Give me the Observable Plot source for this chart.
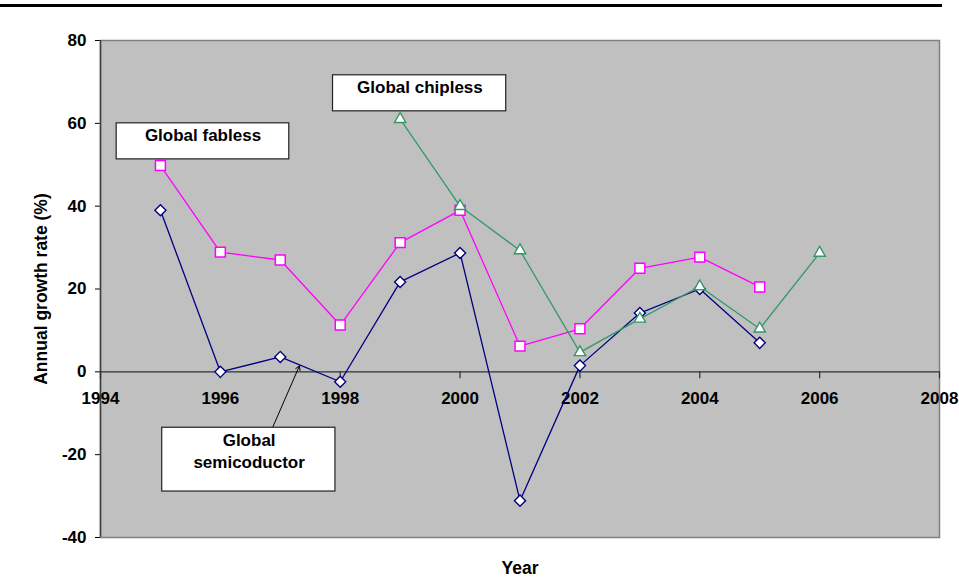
<!DOCTYPE html>
<html>
<head>
<meta charset="utf-8">
<script src="https://cdn.jsdelivr.net/npm/d3@7"></script>
<script src="https://cdn.jsdelivr.net/npm/@observablehq/plot@0.6"></script>
<style>
  html, body { margin: 0; padding: 0; background: white; }
  #wrap { position: relative; width: 959px; height: 581px; }
  #topline { position: absolute; left: 0; top: 4px; width: 942px; height: 3px; background: black; }
</style>
</head>
<body>
<div id="wrap"><div id="topline"></div></div>
<script>
// ---- data ----
const semiYears = [1995, 1996, 1997, 1998, 1999, 2000, 2001, 2002, 2003, 2004, 2005];
const semiconductor = [39.0, 0.0, 3.6, -2.4, 21.7, 28.7, -31.1, 1.5, 14.2, 20.0, 7.0];
const fablessYears = [1995, 1996, 1997, 1998, 1999, 2000, 2001, 2002, 2003, 2004, 2005];
const fabless = [49.8, 28.9, 27.0, 11.3, 31.2, 39.0, 6.2, 10.4, 25.0, 27.7, 20.5];
const chiplessYears = [1999, 2000, 2001, 2002, 2003, 2004, 2005, 2006];
const chipless = [61.0, 40.0, 29.3, 4.7, 12.8, 20.6, 10.4, 28.7];
const xTicks = [1994, 1996, 1998, 2000, 2002, 2004, 2006, 2008];
const yTicks = [-40, -20, 0, 20, 40, 60, 80];
const seriesNames = ["Global semicoductor", "Global fabless", "Global chipless"];
const xTitle = "Year";
const yTitle = "Annual growth rate (%)";

const toRows = (years, vals) => years.map((y, i) => ({year: y, value: vals[i]}));
const semiRows = toRows(semiYears, semiconductor);
const fabRows = toRows(fablessYears, fabless);
const chipRows = toRows(chiplessYears, chipless);

const C_SEMI = "#000080", C_FAB = "#ff00ff", C_CHIP = "#339966";

const chart = Plot.plot({
  width: 959,
  height: 581,
  marginLeft: 100,
  marginRight: 20,
  marginTop: 40,
  marginBottom: 44,
  style: {
    fontFamily: "'Liberation Sans', Arial, sans-serif",
    fontWeight: "bold",
    fontSize: "17px",
    background: "transparent",
    overflow: "visible"
  },
  x: {domain: [1994, 2008], axis: null},
  y: {
    domain: [-40, 80],
    ticks: yTicks,
    tickFormat: d => String(d),
    tickSize: 5,
    tickPadding: 9,
    label: null
  },
  marks: [
    Plot.frame({fill: "#c0c0c0", stroke: "#808080", strokeWidth: 1.5}),
    Plot.ruleX([1994], {stroke: "#404040", strokeWidth: 1.5}),
    Plot.ruleY([0], {stroke: "#303030", strokeWidth: 1.2}),
    Plot.ruleX(xTicks, {x: d => d, y1: 0, y2: -1.7, stroke: "#303030", strokeWidth: 1.2}),
    Plot.text(xTicks, {x: d => d, y: 0, dy: 27, text: d => String(d), fill: "black"}),
    Plot.text([yTitle], {frameAnchor: "left", dx: -59, rotate: -90, textAnchor: "middle", lineAnchor: "middle", fontSize: 17.5, text: d => d}),
    Plot.text([xTitle], {frameAnchor: "bottom", dy: 31, textAnchor: "middle", lineAnchor: "middle", fontSize: 17.5, text: d => d}),

    // series
    Plot.line(semiRows, {x: "year", y: "value", stroke: C_SEMI, strokeWidth: 1.3}),
    Plot.dot(semiRows, {x: "year", y: "value", symbol: "diamond2", r: 5, fill: "white", stroke: C_SEMI, strokeWidth: 1.4}),
    Plot.line(fabRows, {x: "year", y: "value", stroke: C_FAB, strokeWidth: 1.3}),
    Plot.dot(fabRows, {x: "year", y: "value", symbol: "square", r: 5.6, fill: "white", stroke: C_FAB, strokeWidth: 1.5}),
    Plot.line(chipRows, {x: "year", y: "value", stroke: C_CHIP, strokeWidth: 1.3}),
    Plot.dot(chipRows, {x: "year", y: "value", symbol: "triangle", r: 4.2, fill: "white", stroke: C_CHIP, strokeWidth: 1.4}),

    // annotation boxes
    Plot.rect([seriesNames[1]], {x1: 1994.27, x2: 1997.15, y1: 51.3, y2: 60.0, fill: "white", stroke: "#222", strokeWidth: 1.2}),
    Plot.text([seriesNames[1]], {x: 1995.71, y: 57.1, text: d => d, fill: "black"}),
    Plot.rect([seriesNames[2]], {x1: 1997.88, x2: 2000.77, y1: 62.9, y2: 71.6, fill: "white", stroke: "#222", strokeWidth: 1.2}),
    Plot.text([seriesNames[2]], {x: 1999.33, y: 68.7, text: d => d, fill: "black"}),
    Plot.arrow([seriesNames[0]], {x1: 1996.87, y1: -13.5, x2: 1997.32, y2: 1.45, stroke: "black", strokeWidth: 1, headLength: 7}),
    Plot.rect([seriesNames[0]], {x1: 1995.03, x2: 1997.92, y1: -28.9, y2: -13.5, fill: "white", stroke: "#222", strokeWidth: 1.2}),
    Plot.text([seriesNames[0]], {x: 1996.48, y: -16.6, text: d => d.replace(" ", "\n"), lineAnchor: "top", dy: -10, lineHeight: 1.3, fill: "black"})
  ]
});
chart.style.position = "absolute";
chart.style.left = "0px";
chart.style.top = "0px";
document.getElementById("wrap").appendChild(chart);
</script>
</body>
</html>
